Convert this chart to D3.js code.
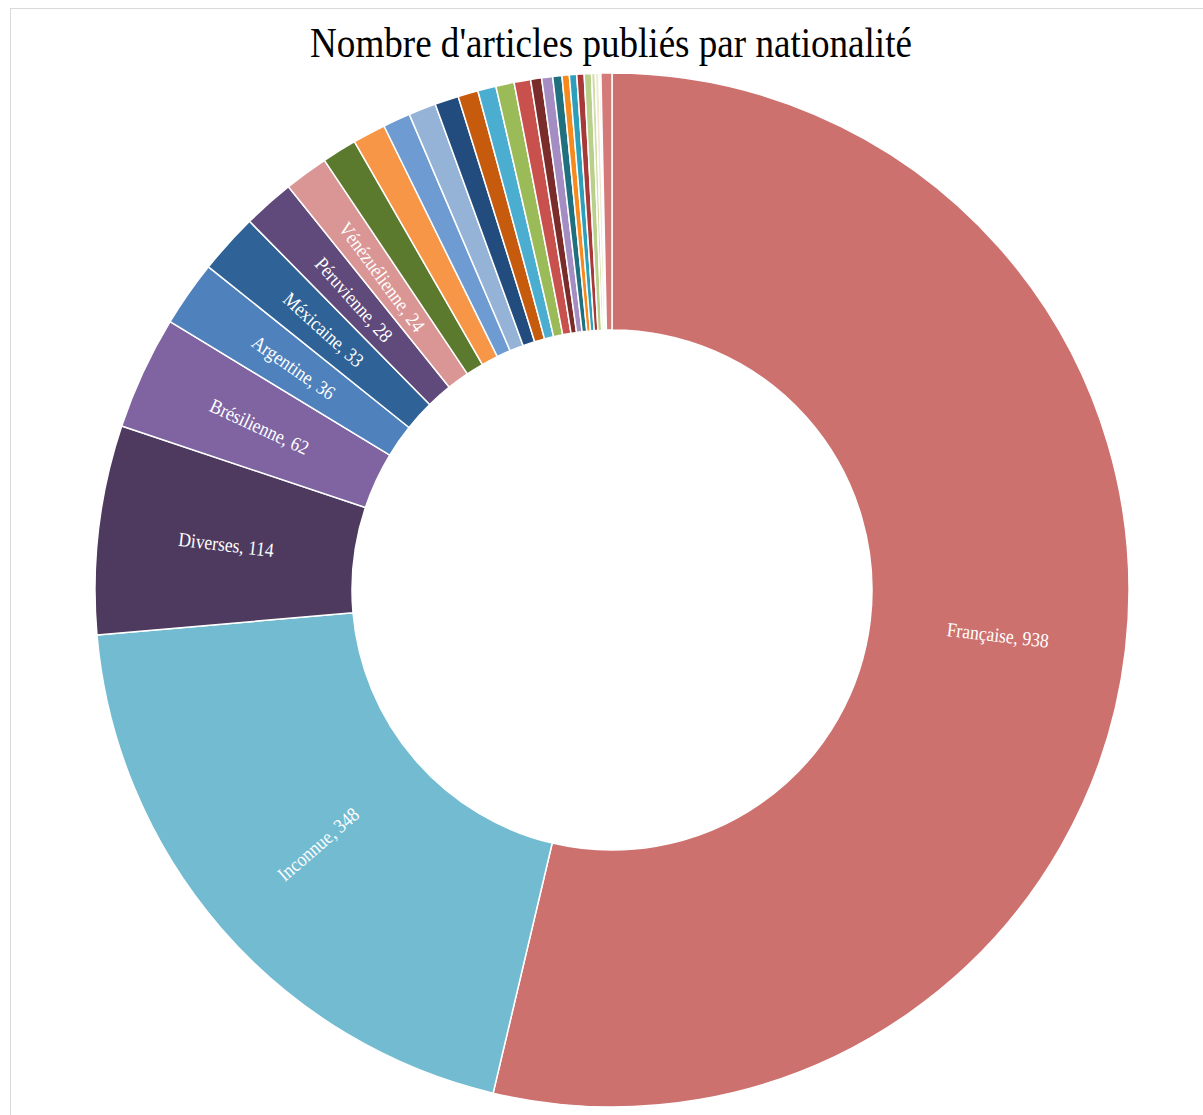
<!DOCTYPE html>
<html><head><meta charset="utf-8">
<script src="https://cdn.jsdelivr.net/npm/d3@7"></script>
<style>body{margin:0;background:#fff}svg{display:block}</style>
</head><body>
<script>
const categories = ["Française","Inconnue","Diverses","Brésilienne","Argentine","Méxicaine","Péruvienne","Vénézuélienne",
  "Chilienne","Colombienne","Espagnole","Cubaine","Uruguayenne","Bolivienne","Équatorienne","Belge","Suisse","Italienne",
  "Allemande","Américaine","Portugaise","Guatémaltèque","Paraguayenne","Haïtienne","Britannique","Canadienne","Dominicaine","Autres"];
const values = [938,348,114,62,36,33,28,24,
  19,18,15,15,13,11,10,10,9,6,
  6,5,4,4,4,4,2,2,1,6];
const colors = ["#CD716F","#72BBD1","#4E3A5E","#8064A2","#4F81BD","#2F6397","#604A7B","#D99694",
  "#5B7A2D","#F79646","#6F9BD3","#95B3D7","#234C7E","#C65B0E","#4BADD0","#9BBB59","#C8504D",
  "#7A2C2B","#A38DC3","#21707F","#F68A1E","#2E9FBB","#A73A38","#B9D08A","#D2DCA8","#EFEAD0","#F3CFCD","#D47B79"];
const showLabel = [true,true,true,true,true,true,true,true];
const title = "Nombre d'articles publiés par nationalité";

const W = 1203, H = 1115;
const cx = 612, cy = 590, R = 517, r0 = 260;
const svg = d3.select("body").append("svg").attr("width", W).attr("height", H);

svg.append("rect").attr("x", 10.5).attr("y", 8.5).attr("width", W + 10).attr("height", H + 10)
  .attr("fill", "none").attr("stroke", "#d9d9d9").attr("stroke-width", 1);

const data = categories.map((c, i) => ({name: c, value: values[i], color: colors[i], label: !!showLabel[i]}));
const pie = d3.pie().value(d => d.value).sort(null).startAngle(0).endAngle(2 * Math.PI);
const arcs = pie(data);
const arc = d3.arc().innerRadius(r0).outerRadius(R);
const labelArc = d3.arc().innerRadius((r0 + R) / 2).outerRadius((r0 + R) / 2);

const g = svg.append("g").attr("transform", `translate(${cx},${cy})`);
g.selectAll("path").data(arcs).join("path")
  .attr("d", arc).attr("fill", d => d.data.color)
  .attr("stroke", "#fff").attr("stroke-width", 1.5).attr("stroke-linejoin", "round");

g.selectAll("text.lbl").data(arcs.filter(d => d.data.label)).join("text")
  .attr("class", "lbl")
  .attr("transform", d => {
    const [x, y] = labelArc.centroid(d);
    const a = (d.startAngle + d.endAngle) / 2 * 180 / Math.PI;
    const rot = a < 180 ? a - 90 : a - 270;
    return `translate(${x},${y}) rotate(${rot}) scale(0.88,1)`;
  })
  .attr("text-anchor", "middle").attr("dy", "0.35em")
  .attr("font-family", "'Liberation Serif','Times New Roman',serif").attr("font-size", 20)
  .attr("fill", "#fff")
  .text(d => `${d.data.name}, ${d.data.value}`);

const t = svg.append("text")
  .attr("font-family", "'Liberation Serif','Times New Roman',serif").attr("font-size", 42)
  .attr("fill", "#000").attr("text-anchor", "middle").text(title);
const len = t.node().getComputedTextLength();
const sx = 602 / len;
t.attr("transform", `translate(611,57) scale(${sx},1)`);
</script>
</body></html>
